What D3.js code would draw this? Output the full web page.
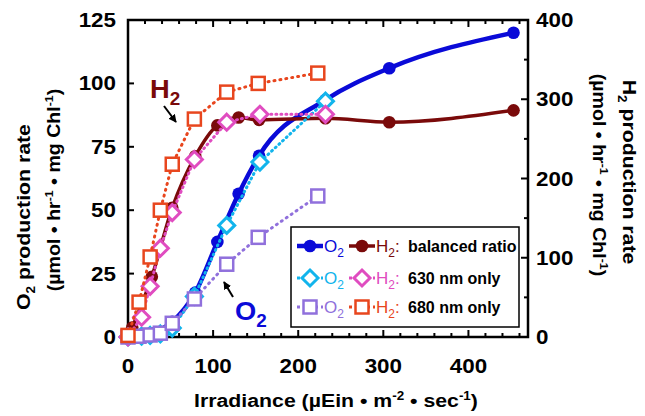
<!DOCTYPE html>
<html><head><meta charset="utf-8">
<script src="https://cdn.jsdelivr.net/npm/d3@7"></script>
<style>body{margin:0;background:#fff}svg{font-family:"Liberation Sans",Arial,sans-serif;font-weight:bold}</style>
</head><body><svg id="c" width="645" height="416"></svg>
<script>
// ---- data ----
const balX   = [0, 5, 28, 52, 79, 105, 130, 154, 232, 307, 453];
const balO2  = [0, 0.2, 1.5, 6, 17.5, 37.5, 56.5, 71.5, 93.5, 106, 120];
const balH2  = [0, 12, 76, 163, 228, 267, 277, 274, 276, 271, 286];
const r630X  = [0, 16, 26, 38, 52, 78, 116, 155, 232];
const r630O2 = [0, 0.3, 0.6, 1.2, 3.5, 16, 44, 69, 93];
const r630H2 = [0, 25, 64, 112, 157, 224, 271, 281, 281];
const r680X  = [0, 13, 26, 38, 52, 78, 116, 153, 223];
const r680O2 = [0, 0.3, 0.8, 1.5, 5.4, 15, 28.7, 39.3, 55.6];
const r680H2 = [2, 44, 101, 160, 218, 275, 309, 320, 333];
const xTicks = [0, 100, 200, 300, 400];
const yLTicks = [0, 25, 50, 75, 100, 125];
const yRTicks = [0, 100, 200, 300, 400];

const C = {blue:"#0a0ad8", dred:"#7a0a0a", cyan:"#12b4ec", pink:"#e04cc0", purple:"#9070dc", orange:"#e8461e"};

const svg = d3.select("#c");
const L=128, R=528, T=20, B=337;
const x = d3.scaleLinear().domain([0,470]).range([L,R]);
const yL = d3.scaleLinear().domain([0,125]).range([B,T]);
const yR = d3.scaleLinear().domain([0,400]).range([B,T]);
const SX = 1.12;

function txt(tx, ty, rot, html, o){
  const gg = svg.append("g").attr("transform",`translate(${tx},${ty}) rotate(${rot}) scale(${o.sx||SX},1)`);
  return gg.append("text").attr("text-anchor",o.anchor||"middle").attr("font-size",o.fs).attr("fill",o.fill||"#000").html(html);
}

// axes ticks (inward)
const g = svg.append("g");
d3.range(0,471,20).forEach(v=>{
  const len = v%100===0?7:4;
  g.append("line").attr("x1",x(v)).attr("x2",x(v)).attr("y1",B).attr("y2",B-len).attr("stroke","#000").attr("stroke-width",2);
  g.append("line").attr("x1",x(v)).attr("x2",x(v)).attr("y1",T).attr("y2",T+len).attr("stroke","#000").attr("stroke-width",2);
});
yLTicks.forEach(v=>{
  g.append("line").attr("x1",L).attr("x2",L+6).attr("y1",yL(v)).attr("y2",yL(v)).attr("stroke","#000").attr("stroke-width",2);
});
d3.range(0,401,50).forEach(v=>{
  const len = v%100===0?7:4;
  g.append("line").attr("x1",R).attr("x2",R-len).attr("y1",yR(v)).attr("y2",yR(v)).attr("stroke","#000").attr("stroke-width",2);
});
g.append("rect").attr("x",L).attr("y",T).attr("width",R-L).attr("height",B-T).attr("fill","none").attr("stroke","#000").attr("stroke-width",2.5);

// tick labels
const fs = 20;
xTicks.forEach(v=>txt(x(v),373,0,v,{fs}));
yLTicks.forEach(v=>txt(116,yL(v)+7,0,v,{fs,anchor:"end"}));
yRTicks.forEach(v=>txt(536,yR(v)+7,0,v,{fs,anchor:"start"}));

// axis titles
const unitsHTML = '(µmol • hr<tspan font-size="11" dy="-7">-1</tspan><tspan dy="7"> • mg Chl</tspan><tspan font-size="11" dy="-7">-1</tspan><tspan dy="7">)</tspan>';
txt(336,407,0,'Irradiance (µEin • m<tspan font-size="12" dy="-7">-2</tspan><tspan dy="7"> • sec</tspan><tspan font-size="12" dy="-7">-1</tspan><tspan dy="7">)</tspan>',{fs:19});
txt(30,217,-90,'O<tspan font-size="12" dy="5">2</tspan><tspan dy="-5"> production rate</tspan>',{fs:19});
txt(60,190,-90,unitsHTML,{fs:17.5});
txt(623,172,90,'H<tspan font-size="12" dy="5">2</tspan><tspan dy="-5"> production rate</tspan>',{fs:19});
txt(593,175,90,unitsHTML,{fs:17.5});

// series drawing
const plot = svg.append("g");
function drawMarker(sel,cx,cy,m,color){
  if(m==="circle") sel.append("circle").attr("cx",cx).attr("cy",cy).attr("r",6.3).attr("fill",color);
  else if(m==="diamond") sel.append("path").attr("d",`M${cx},${cy-8}L${cx+8},${cy}L${cx},${cy+8}L${cx-8},${cy}Z`).attr("fill","#fff").attr("stroke",color).attr("stroke-width",3);
  else if(m==="square") sel.append("rect").attr("x",cx-6.5).attr("y",cy-6.5).attr("width",13).attr("height",13).attr("fill","#fff").attr("stroke",color).attr("stroke-width",2.5);
}
function series(xs, ys, ysc, color, opt){
  const pts = xs.map((d,i)=>[x(d), ysc(ys[i])]);
  const line = d3.line().curve(opt.smooth?d3.curveMonotoneX:d3.curveLinear);
  plot.append("path").attr("d",line(pts)).attr("fill","none").attr("stroke",color)
    .attr("stroke-width",opt.lw).attr("stroke-dasharray",opt.dash||null).attr("stroke-linecap",opt.dash?"round":"butt");
  pts.forEach(p=>drawMarker(plot,p[0],p[1],opt.marker,color));
}
series(balX, balO2, yL, C.blue, {smooth:true, lw:4.5, marker:"circle"});
series(balX, balH2, yR, C.dred, {smooth:true, lw:3.5, marker:"circle"});
series(r630X, r630O2, yL, C.cyan, {lw:3, dash:"1,4", marker:"diamond"});
series(r630X, r630H2, yR, C.pink, {lw:3, dash:"1,4", marker:"diamond"});
series(r680X, r680O2, yL, C.purple, {lw:3, dash:"1,5", marker:"square"});
series(r680X, r680H2, yR, C.orange, {lw:3, dash:"1,5", marker:"square"});

// annotations
txt(150,98,0,'H<tspan font-size="18" dy="7">2</tspan>',{fs:26,anchor:"start",fill:C.dred,sx:1.05});
txt(235,320,0,'O<tspan font-size="18" dy="7">2</tspan>',{fs:26,anchor:"start",fill:C.blue,sx:1.05});
svg.append("defs").append("marker").attr("id","ah").attr("viewBox","0 0 10 10").attr("refX",9).attr("refY",5)
  .attr("markerWidth",4).attr("markerHeight",4).attr("orient","auto")
  .append("path").attr("d","M0,0L10,5L0,10Z").attr("fill","#000");
svg.append("line").attr("x1",164).attr("y1",106).attr("x2",176).attr("y2",122).attr("stroke","#000").attr("stroke-width",2).attr("marker-end","url(#ah)");
svg.append("line").attr("x1",233).attr("y1",297).attr("x2",224).attr("y2",282).attr("stroke","#000").attr("stroke-width",2).attr("marker-end","url(#ah)");

// legend
const lg = svg.append("g");
lg.append("rect").attr("x",291).attr("y",227).attr("width",228).attr("height",100).attr("fill","#fff").attr("stroke","#000").attr("stroke-width",1.5);
const rows = [
  {y:246, c1:C.blue, c2:C.dred, m:"circle", lw1:4.5, lw2:3.5, dash:null, label:"balanced ratio"},
  {y:278, c1:C.cyan, c2:C.pink, m:"diamond", lw1:3, lw2:3, dash:"3,3", label:"630 nm only"},
  {y:307, c1:C.purple, c2:C.orange, m:"square", lw1:3, lw2:3, dash:"3,3", label:"680 nm only"}
];
rows.forEach(r=>{
  [[297,323,r.c1,"O",r.lw1],[349,375,r.c2,"H",r.lw2]].forEach(([a,b,col,sym,lw])=>{
    lg.append("line").attr("x1",a).attr("x2",b).attr("y1",r.y).attr("y2",r.y).attr("stroke",col).attr("stroke-width",lw).attr("stroke-dasharray",r.dash);
    drawMarker(lg,(a+b)/2,r.y,r.m,col);
    lg.append("text").attr("x",b+1).attr("y",r.y+6).attr("font-size",17).attr("font-weight","normal").attr("fill",col)
      .html(sym+'<tspan font-size="12" dy="5">2</tspan>'+(sym==="H"?'<tspan dy="-5">:</tspan>':''));
  });
  lg.append("text").attr("x",408).attr("y",r.y+6).attr("font-size",16).attr("fill","#000").text(r.label);
});
</script></body></html>
